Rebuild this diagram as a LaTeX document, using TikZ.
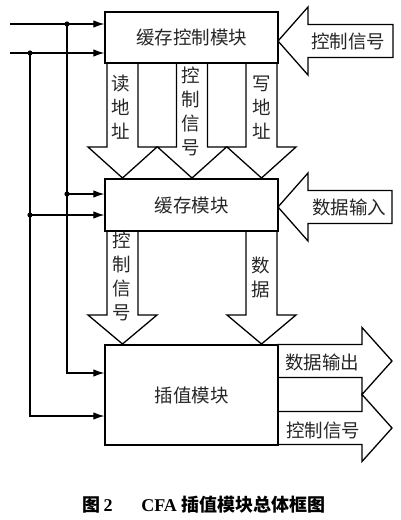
\documentclass[tikz,border=0pt]{standalone}
\usepackage{fontspec}
\setmainfont{Liberation Serif}
\newfontfamily\cjk{Noto Sans CJK SC}
\usetikzlibrary{arrows.meta}
\def\downblock(#1:#2:#3:#4){\draw[blockline] (#1-15.5,#2) -- (#1-15.5,#3) -- (#1-34.5,#3) -- (#1,#4) -- (#1+34.5,#3) -- (#1+15.5,#3) -- (#1+15.5,#2);}
\def\leftblock(#1:#2:#3){\draw[blockline] (#1,#2) -- (#1+30,#2-34) -- (#1+30,#2-16.5) -- (#3,#2-16.5) -- (#3,#2+16.5) -- (#1+30,#2+16.5) -- (#1+30,#2+34) -- cycle;}
\def\rightblock(#1:#2:#3){\draw[blockline] (#1,#2-16.5) -- (#3,#2-16.5) -- (#3,#2-33.5) -- (#3+30,#2) -- (#3,#2+33.5) -- (#3,#2+16.5) -- (#1,#2+16.5);}

\begin{document}
\begin{tikzpicture}[x=1pt, y=-1pt,
		blockline/.style={line width=1.3pt, line join=miter},
		modbox/.style={draw, line width=1.3pt, minimum width=173pt, inner sep=0pt, font=\cjk\fontsize{18.5}{24}\selectfont, text=black!85},
		lbl/.style={align=center, inner sep=0pt, font=\cjk\fontsize{18.5}{24}\selectfont, text=black!85},
		sig/.style={line width=1.2pt, -{Latex[length=11pt,width=7.5pt]}}]
			%%%%% START %%%%%
			\useasboundingbox (0,0) rectangle (400,520);
			
			\node[modbox, minimum height=51pt] (ctrl) at (191.5,37.5) {缓存控制模块};
			\node[modbox, minimum height=52pt] (buf) at (191.5,205) {缓存模块};
			\node[modbox, minimum height=100pt] (interp) at (191.5,395) {插值模块};
			
			% arrows out of the control module
			\downblock(122.5:63:147:178)
			\downblock(192:63:147:178)
			\downblock(261.5:63:147:178)
			\node[lbl] (rdaddr) at (121,107.5) {读\\地\\址};
			\node[lbl] (ctrlsig) at (191,111) {控\\制\\信\\号};
			\node[lbl] (wraddr) at (262,107.5) {写\\地\\址};
			
			% arrows out of the buffer module
			\downblock(122.5:231:315:344)
			\downblock(261.5:231:315:344)
			\node[lbl] (bufsig) at (122,276) {控\\制\\信\\号};
			\node[lbl] (bufdata) at (261,277) {数\\据};
			
			% inputs from the right
			\leftblock(278:41:393)
			\leftblock(278:207:392)
			\node[lbl] (ctrlin) at (348,41) {控制信号};
			\node[lbl] (datain) at (349,207) {数据输入};
			
			% outputs of the interpolation module
			\rightblock(277:361:362)
			\rightblock(277:428:362)
			\node[lbl] (dataout) at (322,362) {数据输出};
			\node[lbl] (ctrlout) at (323,430) {控制信号};
			
			% shared inputs on the left
			\coordinate (inA) at (10,24);
			\coordinate (inB) at (10,53);
			\coordinate (forkA) at (67,24);
			\coordinate (forkB) at (30,53);
			\coordinate (tapA) at (67,194);
			\coordinate (tapB) at (30,215);
			\coordinate (turnA) at (67,373);
			\coordinate (turnB) at (30,416);
			\draw[sig] (inA) -- (inA -| ctrl.west);
			\draw[sig] (inB) -- (inB -| ctrl.west);
			\draw[sig] (forkA) |- (turnA -| interp.west);
			\draw[sig] (forkB) |- (turnB -| interp.west);
			\draw[sig] (tapA) -- (tapA -| buf.west);
			\draw[sig] (tapB) -- (tapB -| buf.west);
			\fill (forkA) circle (2.6) (forkB) circle (2.6) (tapA) circle (2.6) (tapB) circle (2.6);
			
			\node[inner sep=0pt, font=\bfseries\fontsize{18}{22}\selectfont] (caption) at (204,505) {{\cjk 图}\,2\hspace{1.6em}CFA {\cjk 插值模块总体框图}};
			%%%%% END %%%%%
		\end{tikzpicture}
\end{document}
